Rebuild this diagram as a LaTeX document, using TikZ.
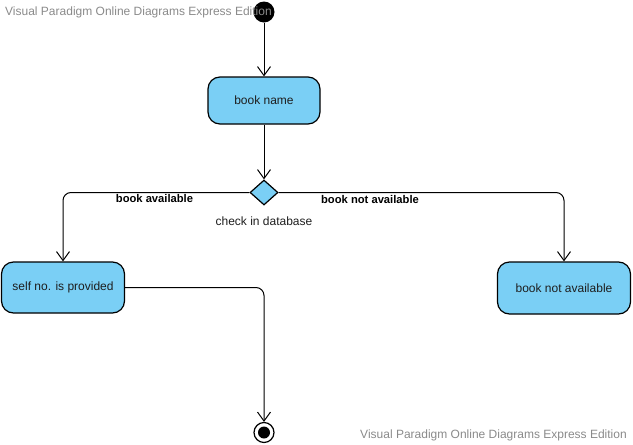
\documentclass[tikz,border=0pt]{standalone}
\usepackage{fontspec}
\setmainfont{Liberation Sans}
\usetikzlibrary{arrows.meta,shapes.geometric}
\definecolor{actfill}{HTML}{7ACFF5}
\definecolor{wmgray}{HTML}{8A8A8A}
\definecolor{txt}{HTML}{1E1E1E}
\tikzset{
  act/.style={draw=black, line width=1.2pt, fill=actfill, rounded corners=12pt, inner sep=0pt, font=\fontsize{12}{14}\selectfont, text=txt},
  flow/.style={draw=black, line width=1pt, rounded corners=8pt, -{Straight Barb[length=9pt,width=13pt,line width=1pt]}},
  lbl/.style={font=\fontsize{11.2}{13}\selectfont\bfseries, text=black, inner sep=0pt},
  note/.style={font=\fontsize{12}{14}\selectfont, text=txt, inner sep=0pt},
  wm/.style={font=\fontsize{12}{14}\selectfont, text=wmgray, inner sep=0pt}
}
\begin{document}
\begin{tikzpicture}[x=1pt,y=-1pt]
\useasboundingbox (0,0) rectangle (633,445);
\node[circle, fill=black, minimum size=21pt, inner sep=0pt] (init) at (264,12) {};
\node[act, minimum width=112pt, minimum height=47pt] (bookname) at (264,100.5) {book name};
\node[diamond, draw=black, line width=1.2pt, fill=actfill, minimum width=28pt, minimum height=25pt, inner sep=0pt] (dec) at (264,192.5) {};
\node[note] (chk) at (264,221) {check in database};
\node[act, minimum width=123pt, minimum height=51pt] (self) at (63,287.5) {self no. is provided};
\node[act, minimum width=133pt, minimum height=52pt] (na) at (564,288) {book not available};
\node[circle, draw=black, line width=1.2pt, fill=white, minimum size=20pt, inner sep=0pt] (final) at (264,432.5) {};
\node[circle, fill=black, minimum size=12pt, inner sep=0pt] (finalin) at (final.center) {};
\draw[flow] (init) -- (bookname);
\draw[flow] (bookname) -- (dec);
\draw[flow] (dec.west) -| (self.north);
\draw[flow] (dec.east) -| (na.north);
\draw[flow] (self.east) -| (final.north);
\node[lbl] (lavail) at (154.5,198.5) {book available};
\node[lbl] (lnot) at (370,199.5) {book not available};
\node[wm, anchor=west] (wm1) at (5,12) {Visual Paradigm Online Diagrams Express Edition};
\node[wm, anchor=east] (wm2) at (627,435) {Visual Paradigm Online Diagrams Express Edition};
\end{tikzpicture}
\end{document}
